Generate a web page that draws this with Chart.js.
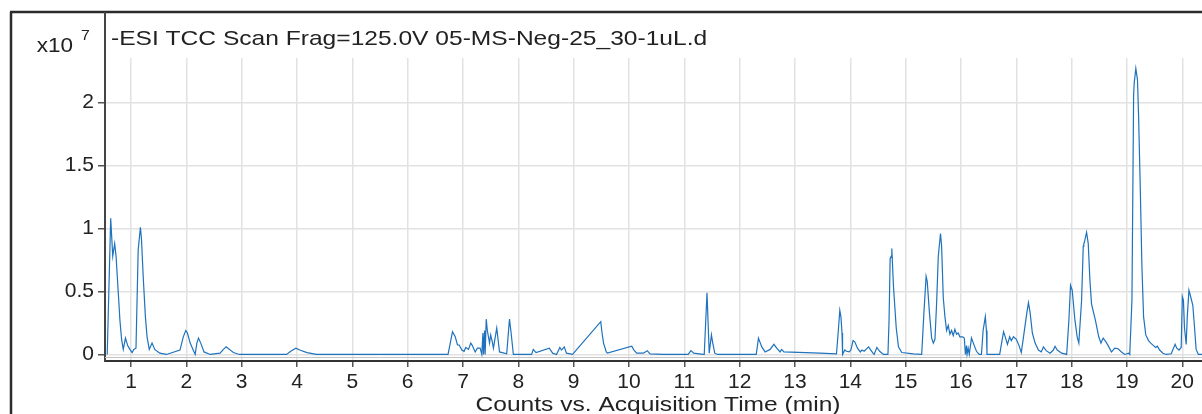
<!DOCTYPE html>
<html>
<head>
<meta charset="utf-8">
<script src="https://cdn.jsdelivr.net/npm/chart.js@4/dist/chart.umd.min.js"></script>
<style>
  html, body { margin: 0; padding: 0; background: #fff; }
  #wrap { position: relative; width: 1202px; height: 414px; }
</style>
</head>
<body>
<div id="wrap"><canvas id="tic" width="1202" height="414"></canvas></div>
<script>
// Retention time (min) and abundance (counts x10^7)
var times = [
  0.57, 0.633, 0.67, 0.705, 0.73, 0.77, 0.80, 0.83, 0.86, 0.90, 0.94, 0.98, 1.02, 1.05, 1.09,
  1.13, 1.17, 1.19, 1.22, 1.26, 1.29, 1.33, 1.38, 1.43, 1.52, 1.64,
  1.885, 1.945, 1.99, 2.02, 2.07, 2.11, 2.16, 2.19, 2.22, 2.26, 2.32, 2.43,
  2.61, 2.67, 2.72, 2.78, 2.85, 2.96,
  3.81, 3.90, 3.98, 4.05, 4.18, 4.35,
  6.73, 6.81, 6.86, 6.90, 6.93, 6.98, 7.02, 7.05, 7.10, 7.14, 7.17, 7.22, 7.26, 7.31, 7.34, 7.36,
  7.37, 7.39, 7.40, 7.42, 7.44, 7.48, 7.50, 7.53, 7.55, 7.61, 7.66, 7.79, 7.84, 7.87, 7.91,
  8.24, 8.27, 8.32, 8.56, 8.62, 8.69, 8.75, 8.78, 8.83, 8.87, 8.98,
  9.49, 9.51, 9.54, 9.59, 9.61, 10.05, 10.09, 10.14, 10.26, 10.33, 10.38, 10.62,
  11.07, 11.12, 11.17, 11.34, 11.36, 11.41, 11.45, 11.49, 11.51, 11.55,
  11.60, 12.30, 12.34, 12.40, 12.46, 12.55, 12.62, 12.67, 12.73, 12.76, 12.80, 13.45, 13.75,
  13.78, 13.81, 13.83, 13.85, 13.86, 13.90, 13.93, 13.98, 14.01, 14.05, 14.08, 14.13, 14.18,
  14.21, 14.25, 14.33, 14.37, 14.41, 14.43, 14.48, 14.53, 14.60, 14.68,
  14.70, 14.72, 14.74, 14.75, 14.78, 14.83, 14.87, 14.93, 15.14, 15.29,
  15.33, 15.37, 15.39, 15.43, 15.47, 15.50, 15.53, 15.56, 15.59, 15.63, 15.65, 15.68, 15.71,
  15.74, 15.77, 15.80, 15.83, 15.86, 15.89, 15.92, 15.95, 15.98, 16.03, 16.06, 16.08, 16.10,
  16.11, 16.13, 16.15, 16.19, 16.24, 16.28, 16.33, 16.37, 16.40, 16.44, 16.46, 16.47,
  16.70, 16.73, 16.77, 16.80, 16.84, 16.88, 16.91, 16.95, 17.00, 17.05, 17.09, 17.13, 17.19,
  17.22, 17.25, 17.29, 17.34, 17.40, 17.45, 17.49, 17.54, 17.61, 17.67, 17.70, 17.74, 17.82, 17.91,
  17.95, 17.98, 18.01, 18.06, 18.10, 18.13, 18.18, 18.21, 18.22, 18.23, 18.27, 18.30, 18.33,
  18.36, 18.43, 18.49, 18.53, 18.57, 18.62, 18.66, 18.72, 18.78, 18.84, 18.90, 18.96, 19.03,
  19.05, 19.09, 19.12, 19.13, 19.16, 19.19, 19.21, 19.24, 19.27, 19.30, 19.34, 19.39, 19.43,
  19.48, 19.52, 19.55, 19.59, 19.65, 19.71, 19.80, 19.87, 19.90, 19.94, 19.98, 20.00, 20.02,
  20.04, 20.07, 20.09, 20.12, 20.15, 20.19, 20.22, 20.25, 20.29, 20.36
];
var counts = [
  0, 1.08, 0.78, 0.88, 0.78, 0.49, 0.27, 0.12, 0.04, 0.13, 0.07, 0.04, 0.015, 0.04, 0.05,
  0.83, 1.01, 0.91, 0.62, 0.30, 0.14, 0.04, 0.09, 0.04, 0.01, 0,
  0.035, 0.14, 0.19, 0.17, 0.09, 0.05, 0, 0.09, 0.13, 0.09, 0.02, 0,
  0.01, 0.04, 0.06, 0.04, 0.015, 0,
  0, 0.03, 0.05, 0.035, 0.015, 0,
  0, 0.18, 0.14, 0.075, 0.075, 0.035, 0.025, 0.055, 0.04, 0.09, 0.07, 0.02, 0.05, 0.05, 0, 0.17,
  0, 0.19, 0, 0.28, 0.19, 0.09, 0.155, 0.10, 0.05, 0.21, 0.02, 0.005, 0.28, 0.17, 0,
  0, 0.04, 0.015, 0.05, 0.01, 0, 0.055, 0.035, 0.06, 0.01, 0,
  0.26, 0.18, 0.09, 0.02, 0.01, 0.065, 0.035, 0.01, 0.01, 0.03, 0.005, 0,
  0, 0.03, 0.01, 0, 0, 0.49, 0.01, 0.155, 0.10, 0.01,
  0, 0, 0.13, 0.06, 0.02, 0.04, 0.08, 0.05, 0.02, 0.04, 0.02, 0.01, 0.005,
  0.17, 0.35, 0.30, 0.17, 0, 0.035, 0.025, 0.02, 0.035, 0.11, 0.10, 0.05, 0.02,
  0.035, 0.025, 0.06, 0.035, 0.01, 0, 0.055, 0.025, 0, 0,
  0.27, 0.76, 0.78, 0.84, 0.54, 0.21, 0.06, 0.015, 0.005, 0,
  0.33, 0.62, 0.58, 0.33, 0.13, 0.09, 0.12, 0.41, 0.78, 0.96, 0.86, 0.45, 0.30,
  0.19, 0.23, 0.16, 0.19, 0.15, 0.20, 0.16, 0.17, 0.14, 0.14, 0.13, 0, 0.07,
  0, 0.05, 0, 0.13, 0.07, 0.025, 0, 0, 0.19, 0.30, 0.19, 0,
  0, 0.08, 0.18, 0.14, 0.08, 0.14, 0.11, 0.14, 0.12, 0.07, 0.015, 0.14, 0.33,
  0.41, 0.33, 0.17, 0.09, 0.035, 0.02, 0.06, 0.03, 0.01, 0.035, 0.065, 0.035, 0.01, 0,
  0.27, 0.55, 0.51, 0.27, 0.14, 0.09, 0.43, 0.86, 0.88, 0.89, 0.97, 0.88, 0.59,
  0.40, 0.27, 0.14, 0.09, 0.13, 0.10, 0.07, 0.02, 0.05, 0.045, 0.02, 0, 0.01,
  0, 0.43, 2.05, 2.15, 2.27, 2.18, 1.89, 1.33, 0.70, 0.30, 0.155, 0.11, 0.09,
  0.07, 0.055, 0.065, 0.035, 0.01, 0, 0.005, 0.08, 0.05, 0.035, 0.055, 0.46, 0.43,
  0.21, 0.08, 0.30, 0.51, 0.46, 0.39, 0.22, 0.04, 0, 0
];
var xTicks = [1, 2, 3, 4, 5, 6, 7, 8, 9, 10, 11, 12, 13, 14, 15, 16, 17, 18, 19, 20];
var yTicks = [0, 0.5, 1, 1.5, 2];
var plotTitle = "-ESI TCC Scan Frag=125.0V 05-MS-Neg-25_30-1uL.d";
var xTitle = "Counts vs. Acquisition Time (min)";

var FONT = '"Liberation Sans", Arial, sans-serif';
Chart.defaults.font.family = FONT;
Chart.defaults.color = "#222";

var points = times.map(function (t, i) {
  return { x: t, y: counts[i] };
});

// the original export is a little wide, so the plugin text is stretched sideways
function wideText(ctx, text, x, y, align, stretch) {
  ctx.save();
  ctx.translate(x, y);
  ctx.scale(stretch, 1);
  ctx.textAlign = align;
  ctx.fillText(text, 0, 0);
  ctx.restore();
}

// frame, header strip, exponent label and axis title, drawn around the plot area
var framePlugin = {
  id: "frame",
  afterDraw: function (chart) {
    var ctx = chart.ctx;
    var area = chart.chartArea;
    ctx.save();
    ctx.strokeStyle = "#2b2b2b";
    ctx.lineWidth = 2.5;
    ctx.beginPath();
    ctx.moveTo(10, 12);
    ctx.lineTo(chart.width, 12);
    ctx.moveTo(11, 12);
    ctx.lineTo(11, chart.height);
    ctx.stroke();

    ctx.strokeStyle = "#444";
    ctx.lineWidth = 2;
    ctx.beginPath();
    ctx.moveTo(area.left, 12);
    ctx.lineTo(area.left, area.top + 1);
    ctx.stroke();

    // thin grey rule just above the time axis
    ctx.strokeStyle = "#c4c4c4";
    ctx.lineWidth = 1;
    ctx.beginPath();
    ctx.moveTo(area.left, area.bottom - 3.5);
    ctx.lineTo(area.right, area.bottom - 3.5);
    ctx.stroke();

    ctx.fillStyle = "#222";
    ctx.textBaseline = "alphabetic";
    ctx.font = "21px " + FONT;
    wideText(ctx, plotTitle, 111, 45, "left", 1.17);
    wideText(ctx, xTitle, 658, 411, "center", 1.17);
    wideText(ctx, "x10", 73, 52, "right", 1.07);
    ctx.font = "15px " + FONT;
    wideText(ctx, "7", 81, 40, "left", 1.05);
    ctx.restore();
  }
};

new Chart(document.getElementById("tic").getContext("2d"), {
  type: "line",
  data: {
    datasets: [
      {
        data: points,
        borderColor: "#1f72bd",
        borderWidth: 1.2,
        pointRadius: 0,
        tension: 0,
        fill: false
      }
    ]
  },
  options: {
    responsive: false,
    animation: false,
    layout: { padding: { top: 58, left: 0, right: 0, bottom: 0 } },
    plugins: { legend: { display: false }, tooltip: { enabled: false } },
    scales: {
      x: {
        type: "linear",
        min: 0.53,
        max: 20.356,
        afterBuildTicks: function (scale) {
          scale.ticks = xTicks.map(function (v) { return { value: v }; });
        },
        afterFit: function (scale) { scale.height = 53; },
        ticks: {
          padding: 3,
          font: { size: 21 },
          color: "#222",
          maxRotation: 0,
          autoSkip: false,
          callback: function (v) { return String(v); }
        },
        grid: { color: "#e2e2e2", lineWidth: 1.5, tickLength: 6, tickColor: "#555", tickWidth: 1.5 },
        border: { color: "#333", width: 2 }
      },
      y: {
        min: -0.052,
        max: 2.353,
        afterBuildTicks: function (scale) {
          scale.ticks = yTicks.map(function (v) { return { value: v }; });
        },
        afterFit: function (scale) { scale.width = 105; },
        ticks: {
          padding: 4,
          font: { size: 21 },
          color: "#222",
          callback: function (v) { return String(v); }
        },
        grid: { color: "#e2e2e2", lineWidth: 1.5, tickLength: 7, tickColor: "#555", tickWidth: 1.5 },
        border: { color: "#444", width: 2 }
      }
    }
  },
  plugins: [framePlugin]
});
</script>
</body>
</html>
